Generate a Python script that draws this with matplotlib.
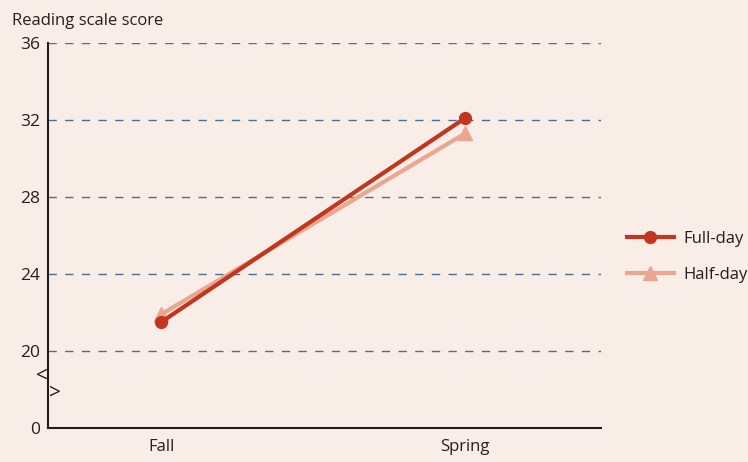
import matplotlib
matplotlib.use("Agg")
import matplotlib.pyplot as plt
from matplotlib.lines import Line2D

# data
seasons = ["Fall", "Spring"]
full_day = [21.5, 32.1]
half_day = [21.9, 31.3]
yticks = [16, 20, 24, 28, 32, 36]
ytick_labels = ["0", "20", "24", "28", "32", "36"]

bg = "#f9ede7"
c_full = "#c0361f"
c_half = "#eaa68e"
grid_c = "#4d6f8f"
txt = "#231f20"

plt.rcParams["font.family"] = ["Open Sans", "DejaVu Sans"]

fig = plt.figure(figsize=(7.48, 4.62), dpi=100, facecolor=bg)
ax = fig.add_axes([0.0642, 0.0736, 0.7393, 0.8334], facecolor=bg)

x = list(range(len(seasons)))
for yv in yticks[1:]:
    ax.axhline(yv, color=grid_c, lw=1.0, ls=(0, (6, 6)), zorder=1)

ax.plot(x, half_day, color=c_half, lw=3, marker="^", ms=10, zorder=3)
ax.plot(x, full_day, color=c_full, lw=3, marker="o", ms=8.5, zorder=4)

ax.set_xlim(-0.372, 1.447)
ax.set_ylim(16, 36)
ax.set_xticks(x)
ax.set_xticklabels(seasons, fontsize=12, color=txt)
ax.set_yticks(yticks)
ax.set_yticklabels(ytick_labels, fontsize=12.5, color=txt)
ax.tick_params(length=0, pad=6)
ax.tick_params(axis="x", pad=8)
for s in ["top", "right"]:
    ax.spines[s].set_visible(False)
for s in ["left", "bottom"]:
    ax.spines[s].set_color(txt)
    ax.spines[s].set_linewidth(1.5)

# axis break marks
ax.text(-0.374, 18.7, "<", ha="right", va="center", fontsize=15, color=txt,
        transform=ax.transData, clip_on=False)
ax.text(-0.370, 17.8, ">", ha="left", va="center", fontsize=15, color=txt,
        transform=ax.transData, clip_on=False)

fig.text(0.016, 0.955, "Reading scale score", fontsize=12, color=txt, va="center")

handles = [
    Line2D([], [], color=c_full, lw=3, marker="o", ms=8.5),
    Line2D([], [], color=c_half, lw=3, marker="^", ms=10),
]
fig.legend(handles, ["Full-day", "Half-day"], loc="center left",
           bbox_to_anchor=(0.818, 0.444), frameon=False, fontsize=12,
           handlelength=2.8, handletextpad=0.6, labelspacing=1.2,
           labelcolor=txt)

fig.savefig("out.png", dpi=100, facecolor=bg)
